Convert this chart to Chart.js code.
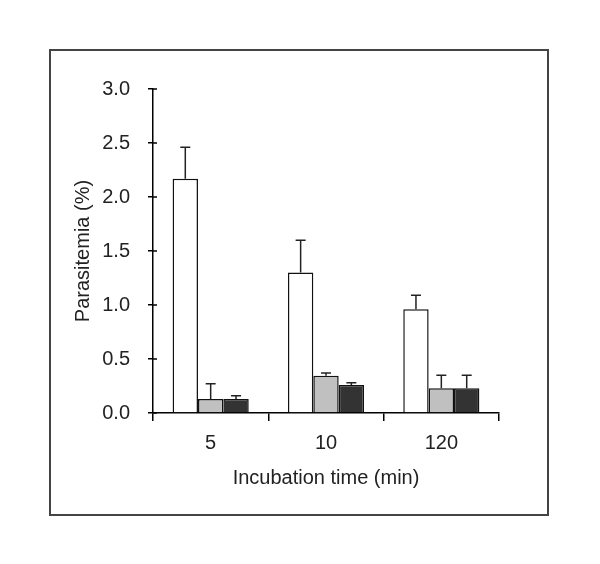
<!DOCTYPE html>
<html>
<head>
<meta charset="utf-8">
<script src="https://cdn.jsdelivr.net/npm/chart.js@4"></script>
<style>
  body { margin: 0; background: #fff; }
</style>
</head>
<body>
<canvas id="mycanvas" width="600" height="564"></canvas>
<script>
// data
var categories = ['5', '10', '120'];
var whiteVals = [2.17, 1.30, 0.96];
var whiteErr = [0.29, 0.30, 0.13];
var grayVals = [0.13, 0.345, 0.23];
var grayErr = [0.14, 0.025, 0.12];
var darkVals = [0.13, 0.26, 0.23];
var darkErr = [0.03, 0.02, 0.12];
var yTicks = [0, 0.5, 1.0, 1.5, 2.0, 2.5, 3.0];

var errors = [whiteErr, grayErr, darkErr];

// error bars (up only), inner half of y ticks, frame round the figure
var extras = {
	id: 'extras',
	afterDatasetsDraw: function(chart) {
		var ctx = chart.ctx;
		var y = chart.scales.y;
		ctx.save();
		ctx.strokeStyle = '#222';
		ctx.lineWidth = 1.5;
		chart.data.datasets.forEach(function(ds, di) {
			var meta = chart.getDatasetMeta(di);
			meta.data.forEach(function(bar, i) {
				var top = y.getPixelForValue(ds.data[i] + errors[di][i]);
				ctx.beginPath();
				ctx.moveTo(bar.x, bar.y);
				ctx.lineTo(bar.x, top);
				ctx.moveTo(bar.x - 5, top);
				ctx.lineTo(bar.x + 5, top);
				ctx.stroke();
			});
		});
		ctx.strokeStyle = '#000';
		yTicks.forEach(function(v) {
			var py = y.getPixelForValue(v);
			ctx.beginPath();
			ctx.moveTo(y.right, py);
			ctx.lineTo(y.right + 4, py);
			ctx.stroke();
		});
		ctx.strokeStyle = '#444';
		ctx.lineWidth = 2;
		ctx.strokeRect(50, 50, 498, 465);
		ctx.restore();
	}
};

var chartdata = {
	labels: categories,
	datasets: [
		{
			label: 'white',
			backgroundColor: '#ffffff',
			borderColor: '#111',
			borderWidth: 1.5,
			data: whiteVals
		},
		{
			label: 'gray',
			backgroundColor: '#c0c0c0',
			borderColor: '#111',
			borderWidth: 1.5,
			data: grayVals
		},
		{
			label: 'dark',
			backgroundColor: '#333333',
			borderColor: '#111',
			borderWidth: 1.5,
			data: darkVals
		}
	]
};

var ctx = document.getElementById('mycanvas');

var barGraph = new Chart(ctx, {
	type: 'bar',
	data: chartdata,
	plugins: [extras],
	options: {
		responsive: false,
		animation: false,
		layout: { padding: { left: 67, top: 89, right: 101, bottom: 70 } },
		datasets: { bar: { categoryPercentage: 0.66, barPercentage: 1.0 } },
		plugins: { legend: { display: false }, tooltip: { enabled: false } },
		scales: {
			x: {
				grid: { offset: true, drawOnChartArea: false, tickLength: 8, color: '#000', lineWidth: 1.5 },
				border: { color: '#000', width: 1.5 },
				ticks: { color: '#222', padding: 10, font: { family: 'Liberation Sans', size: 20 } },
				title: {
					display: true,
					text: 'Incubation time (min)',
					color: '#222',
					padding: { top: 4, bottom: 4 },
					font: { family: 'Liberation Sans', size: 20 }
				},
				afterFit: function(scale) { scale.height = 81; }
			},
			y: {
				min: 0,
				max: 3,
				afterBuildTicks: function(scale) {
					scale.ticks = yTicks.map(function(v) { return { value: v }; });
				},
				grid: { drawOnChartArea: false, tickLength: 5, color: '#000', lineWidth: 1.5 },
				border: { color: '#000', width: 1.5 },
				ticks: {
					color: '#222',
					padding: 18,
					font: { family: 'Liberation Sans', size: 20 },
					callback: function(v) { return Number(v).toFixed(1); }
				},
				title: {
					display: true,
					text: 'Parasitemia (%)',
					color: '#222',
					padding: { top: 4, bottom: 4 },
					font: { family: 'Liberation Sans', size: 20 }
				},
				afterFit: function(scale) { scale.width = 86; }
			}
		}
	}
});
</script>
</body>
</html>
